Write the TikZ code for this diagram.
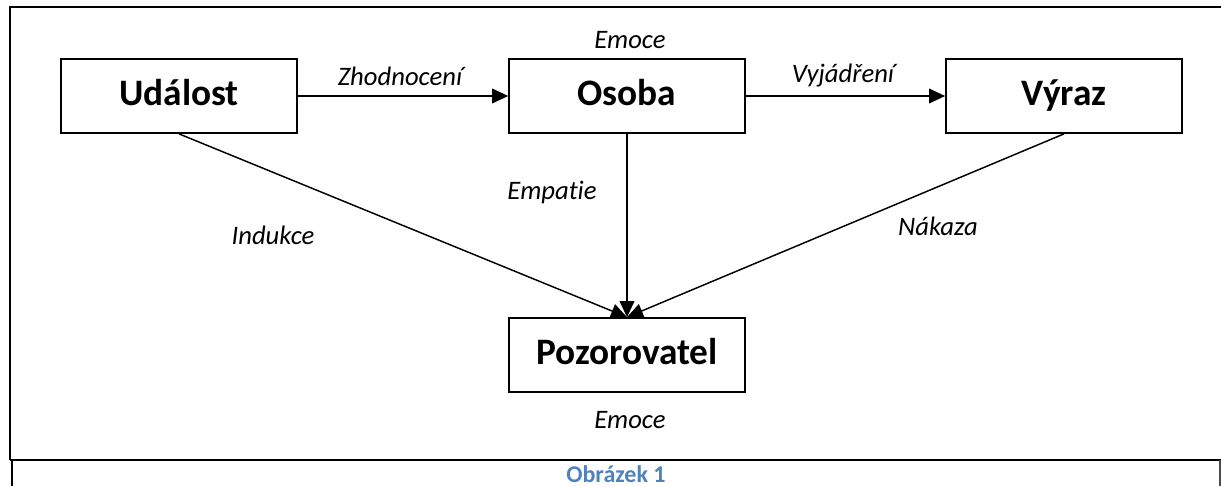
\documentclass[tikz,border=0pt]{standalone}
\usepackage{fontspec}
\setmainfont{Carlito}[Ligatures=NoCommon]
\usetikzlibrary{arrows.meta}
\definecolor{captionblue}{RGB}{79,129,189}
\tikzset{
  box/.style={draw, line width=1.3pt, minimum width=177pt, minimum height=55.5pt, inner sep=0pt, text height=20pt, text depth=6.5pt, font=\fontsize{28}{32}\selectfont\bfseries},
  lbl/.style={inner sep=0.75pt, font=\fontsize{20}{24}\selectfont\itshape},
  arr/.style={line width=1.1pt, -{Triangle[length=12pt,width=11pt]}},
  frame/.style={line width=2.2pt},
}
\begin{document}
\begin{tikzpicture}[x=0.75pt,y=0.75pt,yscale=-1,xscale=1]
\useasboundingbox (0,0) rectangle (1221,486);

%Frame
\draw [frame] (1221,7) -- (10,7) -- (10,460) ;
\draw [frame] (10,460) -- (1221,460) ;
\draw [line width=1.2pt] (12,460) -- (12,486) ;
\draw [line width=0.8pt, draw=black!70] (1220,460) -- (1220,486) ;

%Boxes
\node [box] (udalost) at (179,96) {Událost};
\node [box] (osoba) at (627,96) {Osoba};
\node [box] (vyraz) at (1064,96) {Výraz};
\node [box] (pozorovatel) at (627,355) {Pozorovatel};

%Arrows
\draw [arr] (udalost) -- (osoba) ;
\draw [arr] (osoba) -- (vyraz) ;
\draw [arr] (osoba.south) -- (pozorovatel.north) ;
\draw [arr] (udalost.south) -- (pozorovatel.north) ;
\draw [arr] (vyraz.south) -- (pozorovatel.north) ;

% Text Node
\node [lbl] (zhodnoceni) at (400,76) {Zhodnocení};
% Text Node
\node [lbl] (emoceosoba) at (630,40) {Emoce};
% Text Node
\node [lbl] (vyjadreni) at (843,76) {Vyjádření};
% Text Node
\node [lbl] (indukce) at (273,235) {Indukce};
% Text Node
\node [lbl] (empatie) at (552,192) {Empatie};
% Text Node
\node [lbl] (nakaza) at (938,226) {Nákaza};
% Text Node
\node [lbl] (emocepoz) at (630,420) {Emoce};
% Text Node
\node [inner sep=0.75pt, text=captionblue, font=\fontsize{18}{21}\selectfont\bfseries] (caption) at (616,474) {Obrázek 1};

\end{tikzpicture}
\end{document}
